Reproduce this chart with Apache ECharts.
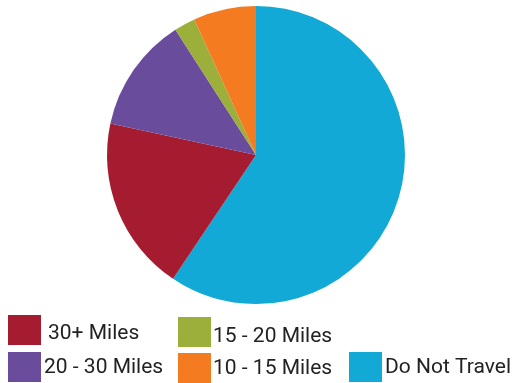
<!DOCTYPE html>
<html>
<head>
<meta charset="utf-8">
<script src="https://cdn.jsdelivr.net/npm/echarts@6/dist/echarts.min.js"></script>
<style>html,body{margin:0;padding:0;background:#fff}#c{width:514px;height:383px}</style>
</head>
<body>
<div id="c"></div>
<script>
// Slices in drawing order (clockwise from 12 o'clock)
const categories = ['Do Not Travel', '30+ Miles', '20 - 30 Miles', '15 - 20 Miles', '10 - 15 Miles'];
const values = [59.4, 19.0, 12.5, 2.3, 6.8];
const colors = ['#12A9D6', '#A51C30', '#6A4C9D', '#9CAF3A', '#F47B20'];

const chart = echarts.init(document.getElementById('c'), null, {renderer: 'canvas'});

const legendSpots = {
  '30+ Miles':     {left: 8,   top: 315, pad: 2,  dy: 8},
  '20 - 30 Miles': {left: 8,   top: 352, pad: -2, dy: 2},
  '15 - 20 Miles': {left: 178, top: 317, pad: -3, dy: 9},
  '10 - 15 Miles': {left: 178, top: 353, pad: -3, dy: 2},
  'Do Not Travel': {left: 349, top: 352, pad: -2, dy: 2}
};

const legends = Object.keys(legendSpots).map(name => {
  const s = legendSpots[name];
  return {
    data: [name],
    left: s.left,
    top: s.top,
    padding: 0,
    itemWidth: 33,
    itemHeight: 30,
    icon: 'rect',
    selectedMode: false,
    formatter: '{a|{name}}',
    textStyle: {
      fontFamily: 'Roboto',
      fontSize: 21,
      color: '#222',
      padding: [0, 0, 0, s.pad],
      rich: {
        a: {fontFamily: 'Roboto', fontSize: 21, color: '#222', padding: [s.dy, 0, 0, 0]}
      }
    }
  };
});

chart.setOption({
  animation: false,
  color: colors,
  legend: legends,
  series: [{
    type: 'pie',
    center: [256, 155],
    radius: 149,
    startAngle: 90,
    clockwise: true,
    label: {show: false},
    labelLine: {show: false},
    emphasis: {disabled: true},
    itemStyle: {borderWidth: 0},
    data: categories.map((c, i) => ({name: c, value: values[i]}))
  }]
});
</script>
</body>
</html>
